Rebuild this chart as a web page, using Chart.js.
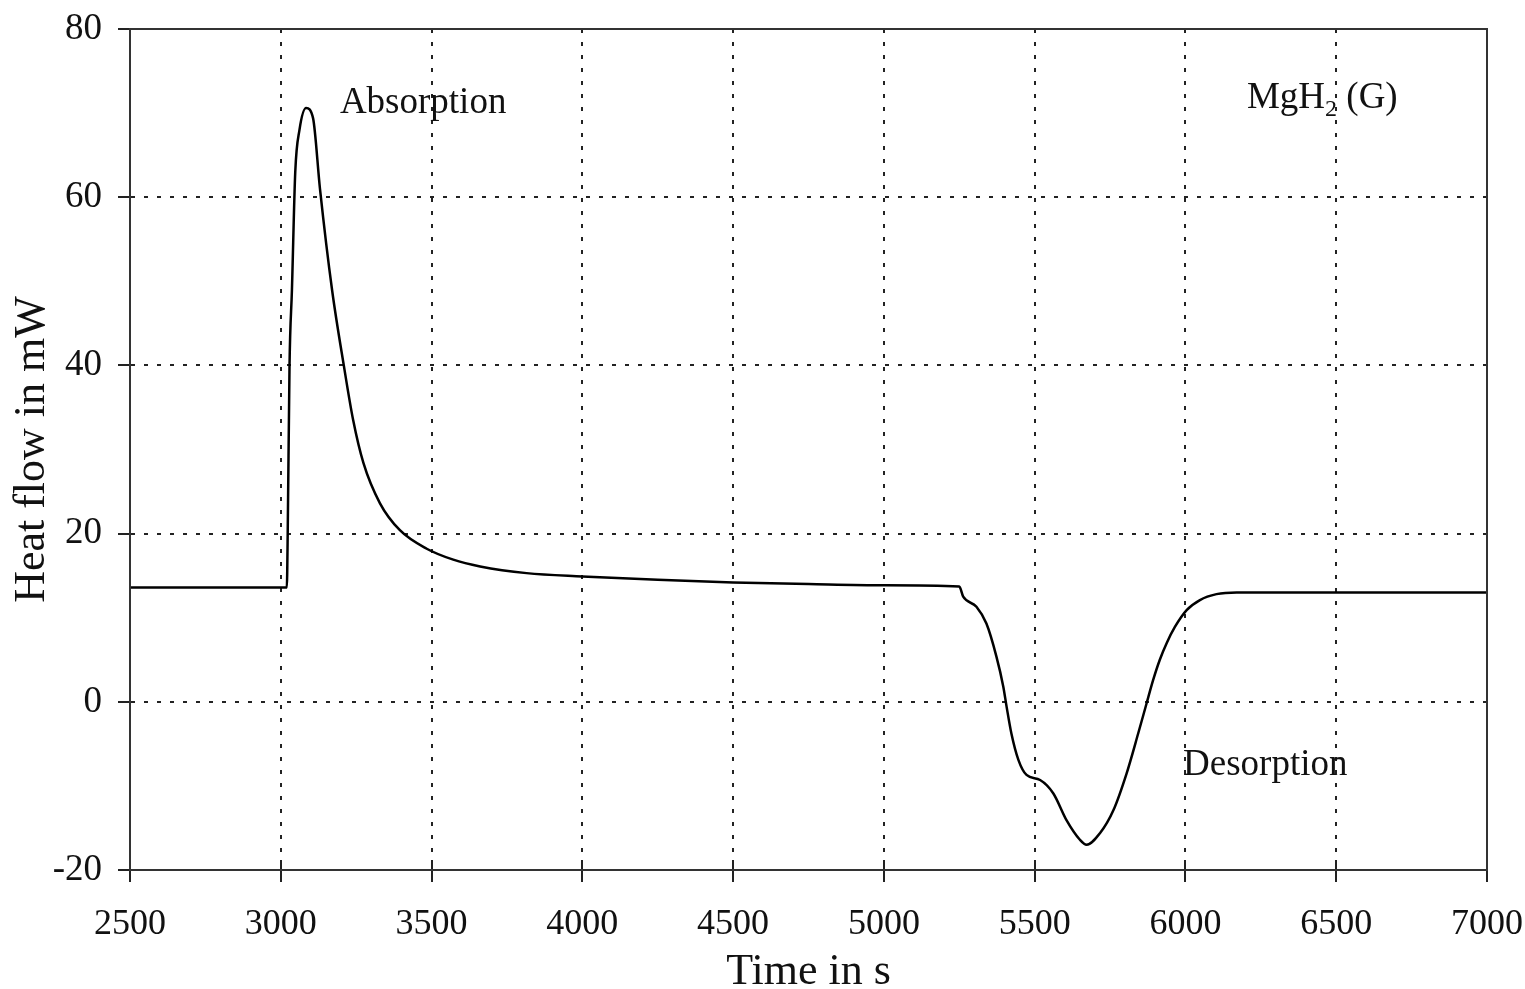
<!DOCTYPE html>
<html>
<head>
<meta charset="utf-8">
<title>Heat flow - MgH2 (G)</title>
<script src="https://cdn.jsdelivr.net/npm/chart.js@4.4.1/dist/chart.umd.min.js"></script>
<style>
	html, body { margin: 0; padding: 0; background: #fff; }
	#wrap { width: 1525px; height: 989px; position: relative; }
</style>
</head>
<body>
<div id="wrap"><canvas id="heat-chart"></canvas></div>
<script>
	// Time in s
	var timeValues = [
		2500, 3000, 3020, 3023, 3029, 3037, 3048, 3062, 3084, 3107, 3130, 3170,
		3209, 3240, 3274, 3329, 3395, 3484, 3572, 3661, 3815, 4000, 4250, 4500,
		4750, 5000, 5250, 5263, 5307, 5340, 5373, 5396, 5407, 5423, 5446, 5473,
		5518, 5562, 5606, 5650, 5672, 5717, 5761, 5805, 5843, 5871, 5893, 5915,
		5938, 5965, 6004, 6048, 6103, 6170, 6500, 7000
	];
	// Heat flow in mW
	var heatFlow = [
		13.6, 13.6, 13.6, 20, 40, 49, 63, 68, 70.6, 69.4, 61, 49,
		40, 33.5, 28.4, 23.6, 20.4, 18.2, 16.9, 16.1, 15.3, 14.9, 14.5, 14.2,
		14.0, 13.85, 13.7, 12.5, 11.3, 9.3, 5.4, 1.8, -0.6, -3.8, -6.9, -8.7,
		-9.3, -10.9, -14.1, -16.4, -17.0, -15.6, -12.9, -8.5, -3.8, -0.2, 2.6, 5.0,
		7.0, 8.9, 10.9, 12.1, 12.8, 13.0, 13.0, 13.0
	];
	var xTicks = [2500, 3000, 3500, 4000, 4500, 5000, 5500, 6000, 6500, 7000];
	var yTicks = [-20, 0, 20, 40, 60, 80];

	var serif = '"Liberation Serif", "Times New Roman", serif';

	// Text labels inside the plot, anchored in data units (left edge, baseline)
	var notes = [
		{ text: 'Absorption', t: 3196, v: 70.0 },
		{ text: 'Desorption', t: 5992, v: -8.7 }
	];

	var points = timeValues.map(function (t, i) {
		return { x: t, y: heatFlow[i] };
	});

	// keep the plot box where the reference has it
	function noPadding(scale) {
		scale.paddingTop = 0;
		scale.paddingBottom = 0;
		scale.paddingLeft = 0;
		scale.paddingRight = 0;
	}

	var framePlugin = {
		id: 'frame',
		afterDraw: function (chart) {
			var ctx = chart.ctx;
			var a = chart.chartArea;
			var xs = chart.scales.x;
			var ys = chart.scales.y;
			ctx.save();

			// inner half of the x tick marks
			ctx.strokeStyle = '#222';
			ctx.lineWidth = 2;
			xTicks.forEach(function (t) {
				var px = Math.round(xs.getPixelForValue(t));
				ctx.beginPath();
				ctx.moveTo(px, a.bottom);
				ctx.lineTo(px, a.bottom - 10);
				ctx.stroke();
			});

			// box around the plot
			ctx.strokeStyle = '#333';
			ctx.lineWidth = 2;
			ctx.strokeRect(a.left, a.top, a.right - a.left, a.bottom - a.top);

			// notes
			ctx.fillStyle = '#111';
			ctx.textBaseline = 'alphabetic';
			ctx.textAlign = 'left';
			ctx.font = '37px ' + serif;
			notes.forEach(function (n) {
				ctx.fillText(n.text, xs.getPixelForValue(n.t), ys.getPixelForValue(n.v));
			});

			// MgH2 (G) with subscript
			var x0 = xs.getPixelForValue(6204);
			var y0 = ys.getPixelForValue(70.6);
			ctx.font = '37px ' + serif;
			ctx.fillText('MgH', x0, y0);
			var w = ctx.measureText('MgH').width;
			ctx.font = '24px ' + serif;
			ctx.fillText('2', x0 + w, y0 + 8);
			var w2 = ctx.measureText('2').width;
			ctx.font = '37px ' + serif;
			ctx.fillText(' (G)', x0 + w + w2, y0);

			ctx.restore();
		}
	};

	new Chart(document.getElementById('heat-chart').getContext('2d'), {
		type: 'line',
		data: {
			datasets: [{
				data: points,
				borderColor: '#000',
				borderWidth: 2.5,
				pointRadius: 0,
				fill: false,
				cubicInterpolationMode: 'monotone'
			}]
		},
		options: {
			responsive: true,
			maintainAspectRatio: false,
			animation: false,
			layout: { padding: { top: 29, right: 38, left: 0, bottom: 0 } },
			plugins: {
				legend: { display: false },
				tooltip: { enabled: false }
			},
			scales: {
				x: {
					type: 'linear',
					min: 2500,
					max: 7000,
					afterFit: function (scale) {
						scale.height = 119;
						noPadding(scale);
					},
					afterBuildTicks: function (scale) {
						scale.ticks = xTicks.map(function (v) { return { value: v }; });
					},
					ticks: {
						color: '#111',
						font: { family: serif, size: 36 },
						padding: 21,
						maxRotation: 0,
						autoSkip: false,
						callback: function (v) { return String(v); }
					},
					grid: {
						color: '#222',
						lineWidth: 2,
						tickLength: 12,
						tickColor: '#222',
						tickWidth: 2
					},
					border: { display: true, color: '#333', width: 2, dash: [4, 9] },
					title: {
						display: true,
						text: 'Time in s',
						color: '#111',
						font: { family: serif, size: 44, lineHeight: 0.77 },
						padding: 0
					}
				},
				y: {
					min: -20,
					max: 80,
					afterFit: function (scale) {
						scale.width = 130;
						noPadding(scale);
					},
					afterBuildTicks: function (scale) {
						scale.ticks = yTicks.map(function (v) { return { value: v }; });
					},
					ticks: {
						color: '#111',
						font: { family: serif, size: 37 },
						padding: 16,
						autoSkip: false
					},
					grid: {
						color: '#222',
						lineWidth: 2,
						tickLength: 12,
						tickColor: '#222',
						tickWidth: 2
					},
					border: { display: true, color: '#333', width: 2, dash: [4, 9] },
					title: {
						display: true,
						text: 'Heat flow in mW',
						color: '#111',
						font: { family: serif, size: 44 },
						padding: { top: 6, bottom: 0 }
					}
				}
			}
		},
		plugins: [framePlugin]
	});
</script>
</body>
</html>
